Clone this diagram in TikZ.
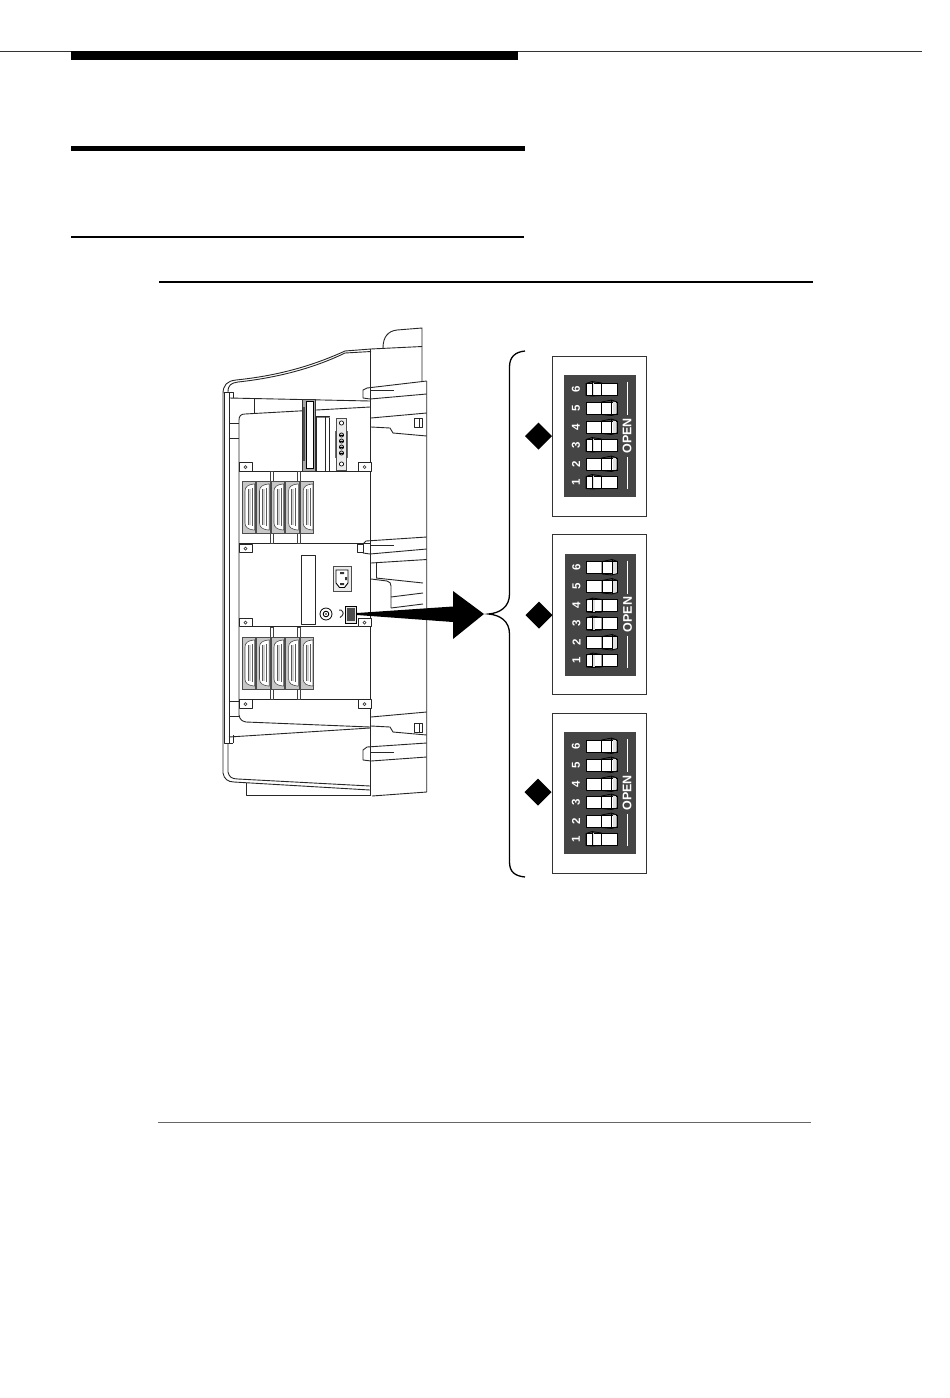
\documentclass[tikz,border=0pt]{standalone}
\usepackage{fontspec}
\setmainfont{Liberation Sans}
\definecolor{panel}{HTML}{454545}
\tikzset{
  ln/.style={line width=0.9pt,draw=black!85,line join=round},
  thin ln/.style={line width=0.7pt,draw=black!75},
  rule/.style={fill=black,draw=none},
  dipnum/.style={text=white,font=\bfseries\fontsize{11.5}{12}\selectfont,rotate=90,inner sep=0pt},
  opentext/.style={text=white,font=\bfseries\fontsize{12.5}{13}\selectfont,rotate=90,inner sep=0pt},
  dipbox/.style={draw=black!80,line width=0.9pt,fill=white},
  dark/.style={fill=panel,draw=none},
  sw/.style={fill=white,draw=black,line width=0.8pt,line join=round},
}
\newcommand{\tabbox}[2]{%
  \draw[ln,fill=white] (#1,#2) rectangle ++(13,8.5);
  \draw[thin ln] (#1+6.5,#2+4.5) circle (1.5);
}
\newcommand{\connector}[2]{%
  \draw[line width=0.8pt,draw=black!70,fill=black!22] (#1,#2) rectangle ++(13.4,52);
  \draw[line width=0.6pt,draw=black!70,fill=white] (#1+12,#2+3) .. controls (#1+6.5,#2+3.5) and (#1+3,#2+5.5) .. (#1+3,#2+10) -- (#1+3,#2+42) .. controls (#1+3,#2+46.5) and (#1+6.5,#2+48.5) .. (#1+12,#2+49) -- (#1+12.7,#2+49) -- (#1+12.7,#2+3) -- cycle;
  \fill[black!18] (#1+5.8,#2+8) rectangle (#1+8.6,#2+44);
  \draw[line width=0.5pt,draw=black!65] (#1+5.8,#2+8) -- (#1+5.8,#2+44) (#1+10,#2+7) -- (#1+10,#2+45);
}
\newcommand{\connrow}[2]{%
  \draw[thin ln,fill=white] (270,#2-9.5) rectangle (273.5,#2+62);
  \draw[thin ln,fill=white] (297,#2-9.5) rectangle (300.5,#2+62);
  \foreach \k in {0,14.5,29,43.6,58.2} {\connector{#1+\k}{#2}}
}
% #1 y centre, #2 = 0 left raised, 1 right raised
\newcommand{\dipswitch}[2]{%
  \draw[sw] (22,#1-6) rectangle (53,#1+6);
  \draw[line width=0.7pt] (37.5,#1-6) -- (37.5,#1+6);
  \ifnum#2=0
    \fill[black!12] (28.5,#1-6) rectangle (30,#1+6);
    \draw[sw,fill=none] (22,#1-5.5) -- (28,#1-7.5) -- (37.5,#1-6) -- (37.5,#1+6.5) -- (28,#1+7) -- (22,#1+6.5) -- cycle;
    \draw[line width=0.5pt] (28,#1-7.5) -- (28,#1+7);
  \else
    \fill[black!12] (48.5,#1-6) rectangle (52,#1+6);
    \draw[sw,fill=none] (37.5,#1-6) -- (47.5,#1-8) -- (53,#1-6) -- (53,#1+6) -- (47.5,#1+7.5) -- (37.5,#1+6.5) -- cycle;
    \draw[line width=0.5pt] (47.5,#1-8) -- (47.5,#1+7.5);
  \fi
}
% #1 shift x, #2 shift y (panel origin), #3..#8 states 6..1
\newcommand{\dipunit}[8]{%
  \begin{scope}[shift={(#1,#2)}]
    \draw[dipbox] (-12,-19) rectangle (82,141);
    \fill[dark] (0,0) rectangle (71.5,122);
    \dipswitch{14}{#3}\dipswitch{33}{#4}\dipswitch{52}{#5}
    \dipswitch{70}{#6}\dipswitch{89}{#7}\dipswitch{107}{#8}
    \node[dipnum] at (12,14) {6};
    \node[dipnum] at (12,33) {5};
    \node[dipnum] at (12,52) {4};
    \node[dipnum] at (12,70) {3};
    \node[dipnum] at (12,89) {2};
    \node[dipnum] at (12,107) {1};
    \node[opentext] at (63,61) {OPEN};
    \draw[white,line width=0.9pt] (63,7) -- (63,40) (63,82) -- (63,114);
  \end{scope}
}
\begin{document}
\begin{tikzpicture}[x=1pt,y=-1pt]
\useasboundingbox (0,0) rectangle (950,1398);
\fill[white] (0,0) rectangle (950,1398);
% page rules
\draw[line width=0.8pt,black!80] (0,51.5) -- (922,51.5);
\fill[rule] (71,51) rectangle (518,59.5);
\fill[rule] (71,146) rectangle (525,150.5);
\fill[rule] (71,236) rectangle (524,238);
\fill[rule] (159,281) rectangle (813,283);
\draw[line width=0.8pt,black!60] (158,1122.5) -- (811,1122.5);

% --- chassis ---
\draw[ln] (223,773) -- (223,394) .. controls (223,385) and (227,381) .. (236,380)
  .. controls (275,376) and (310,367) .. (345,351) -- (371,349);
\draw[ln] (228,392) .. controls (228,385) and (231,383) .. (238,382)
  .. controls (275,378) and (312,369) .. (345,353) -- (371,351.5);
\draw[ln] (224.5,392) -- (224.5,743) -- (233,743);
\draw[ln] (229,392) -- (229,743);
\draw[ln] (224.5,392) -- (233,392) -- (233,398);
\draw[ln] (223,773) .. controls (224,779) and (228,782) .. (234,782) -- (370,790);
\draw[ln] (228,743) -- (228,772) .. controls (229,777) and (232,779) .. (238,779) -- (370,786);
\draw[ln] (233,743) -- (233,735);
\draw[ln] (246,783) -- (246,795) -- (370,795);
% top inner
\draw[ln] (229,398) -- (370,401);
\draw[ln] (254,399) -- (254,413);
\draw[ln] (239,715) -- (239,420) .. controls (239,416) and (241,414) .. (245,414) -- (370,407);
\draw[ln] (229,423) -- (239,423) (229,438) -- (239,438);
\draw[ln] (229,701) -- (239,701) (229,716) -- (239,716);
\draw[ln] (239,715) .. controls (240,720) and (242,721) .. (246,722) -- (370,727);
\draw[ln] (229,737) -- (370,728);
% horizontals
\draw[ln] (239,471) -- (370,471);
\draw[ln] (239,543) -- (370,543);
\draw[ln] (239,626) -- (370,626);
\draw[ln] (239,699) -- (370,699);
% right housing
\draw[ln] (370.7,349) -- (370.7,796);
\draw[ln] (426.7,381) -- (426.7,792) -- (372,796);
\draw[ln] (370.7,349) -- (422,346.5);
\draw[ln] (383,348) .. controls (383,337) and (388,331) .. (397,330) -- (422,328) -- (422,381);
% upper tab
\draw[ln] (426.7,381) -- (367,388) -- (363,390) -- (363,398) -- (370,399) -- (426.7,394);
\draw[ln] (370,390) -- (394,390);
\draw[ln] (371,418) -- (426.7,413);
\draw[ln] (371,427) -- (390,428) -- (393,433) -- (426.7,436);
\draw[ln] (414,418) rectangle (422,427) (419,418) -- (419,427);
% middle tab
\draw[ln] (426.7,537) -- (366,541) -- (363,544) -- (363,553) -- (370,554) -- (426.7,549);
\draw[ln] (370,545) -- (394,545);
\draw[ln] (371,563) -- (426.7,559.5);
\draw[ln] (376,563) -- (376,578);
\draw[ln] (371,579) -- (387,581) .. controls (390,582) and (391,583) .. (391,586) -- (391,608);
\draw[ln] (376,578) -- (423,583);
\draw[ln] (391,597) -- (423,593);
\draw[ln] (391,608) -- (423,604);
% lower tab
\draw[ln] (371,717) -- (426.7,712);
\draw[ln] (371,726) -- (390,727) -- (393,732) -- (426.7,735);
\draw[ln] (414,723) rectangle (422,732) (419,723) -- (419,732);
\draw[ln] (426.7,743) -- (367,747) -- (363,750) -- (363,760) -- (371,761) -- (426.7,757);
\draw[ln] (370,752) -- (394,752);
% mounting tabs
\tabbox{239}{462.5}\tabbox{358}{462.5}
\tabbox{239}{544}
\draw[ln,fill=white] (357,544) rectangle (363,552);
\tabbox{239}{618}\tabbox{358}{618}
\tabbox{239}{699.5}\tabbox{358}{699.5}
% top card
\draw[line width=0.8pt,fill=black!35,draw=black!80] (302,399) rectangle (315,471);
\draw[line width=0.6pt,fill=white] (306.5,401.5) rectangle (313.5,468);
\fill[black!70] (303,407) rectangle (304.5,461);
\draw[ln,fill=white] (316.5,416) rectangle (329.5,471);
\draw[ln,draw=black!50] (316.5,417) -- (329.5,417);
\draw[ln] (325,416) -- (325,471);
\draw[line width=0.7pt,fill=black!8,draw=black!70] (336.5,418.5) rectangle (346.5,470);
\draw[line width=0.9pt,black!60] (335.5,431) -- (335.5,458) (347.5,431) -- (347.5,458);
\foreach \yy in {423,464} {\draw[line width=0.7pt,fill=white] (341.5,\yy) circle (2.1);}
\foreach \yy in {435,441,447,453} {\draw[line width=0.7pt,fill=black!25] (341.5,\yy) circle (2.1);\draw[line width=0.5pt] (339.4,\yy) -- (343.6,\yy);}
% connectors
\connrow{242}{481}
\connrow{242}{637}
% middle card
\draw[ln,fill=white] (301.5,555) rectangle (315,624);
% socket
\draw[line width=0.7pt,fill=black!8,draw=black!70] (333,566) rectangle (351,591);
\draw[line width=0.9pt,fill=white] (336,570) -- (348,570) -- (348,583) -- (344.5,587.5) -- (339.5,587.5) -- (336,583) -- cycle;
\fill[black!80] (340,572) rectangle (344,574) (340,583) rectangle (344,585) (345,577) rectangle (347,580);
% knob
\draw[line width=0.8pt,fill=white] (326,614) circle (6);
\draw[line width=0.9pt] (326,614) circle (2.8);
\fill (326,614) circle (0.9);
\draw[line width=1pt,black!80] (339,610) -- (341,610) .. controls (344,612) and (344,615) .. (340,617.5);
% rocker
\draw[line width=0.7pt,fill=black!10] (345,606) rectangle (356.5,623);
\fill[black!70] (347,608) rectangle (354.5,621);
% arrow
\fill[black] (357,613) -- (453,606.5) -- (453,591) -- (484,614) -- (453,639) -- (453,622) -- (357,615) -- cycle;
% brace
\draw[line width=1.3pt,black] (525,351) .. controls (515,352) and (509.5,357) .. (509.5,367)
  -- (509.5,594) .. controls (509.5,607) and (500,613) .. (488.5,614)
  .. controls (500,615) and (509.5,621) .. (509.5,634)
  -- (509.5,862) .. controls (509.5,872) and (515,876) .. (525,877);
% diamonds
\fill[black] (538.5,422.5) -- (552,436) -- (538.5,449.5) -- (525,436) -- cycle;
\fill[black] (539,601.5) -- (552.5,615) -- (539,628.5) -- (525.5,615) -- cycle;
\fill[black] (538,778.5) -- (551.5,792) -- (538,805.5) -- (524.5,792) -- cycle;
% DIP units
\dipunit{564}{375}{0}{1}{1}{0}{1}{0}
\dipunit{564.5}{553.5}{1}{1}{0}{0}{1}{0}
\dipunit{564}{732}{1}{1}{1}{1}{1}{0}
\end{tikzpicture}
\end{document}
